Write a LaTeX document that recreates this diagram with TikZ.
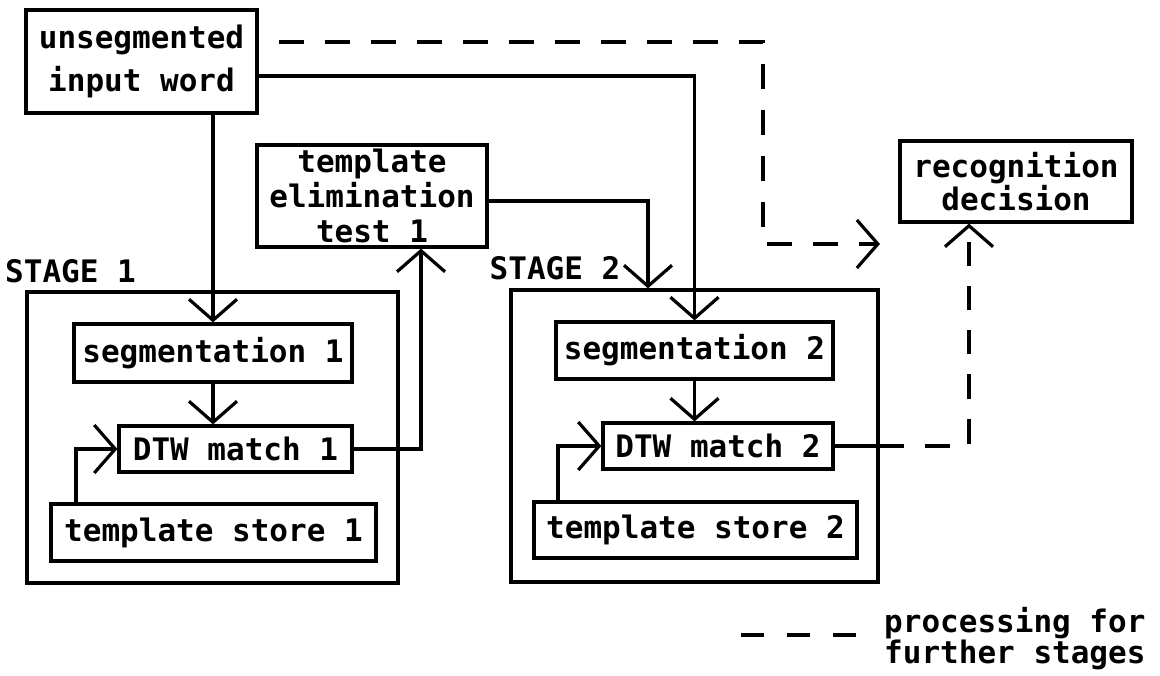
\documentclass[tikz,border=0pt]{standalone}
\usepackage{fontspec}
\setmonofont{DejaVu Sans Mono}
\usetikzlibrary{arrows.meta,calc}
\newcommand\diafont{\ttfamily\bfseries\fontsize{31}{34}\selectfont}
\tikzset{
  box/.style={draw, line width=3.2pt, inner sep=0pt, font=\diafont, align=center},
  lbl/.style={inner sep=0pt, font=\diafont},
  conn/.style={line width=3.2pt},
  arr/.style={conn, -{Straight Barb[length=21pt,width=48pt]}},
  dsh/.style={dash pattern=on 25pt off 21pt},
}
\begin{document}
\begin{tikzpicture}[x=1pt,y=-1pt]
\useasboundingbox (0,0) rectangle (1160,676);
% nodes
\node[box, minimum width=231pt, minimum height=103pt] (inp) at (141.5,61.5) {unsegmented\\[9pt]input word};
\node[box, minimum width=230pt, minimum height=102pt] (elim) at (372,196) {template\\[1pt]elimination\\[1pt]test 1};
\node[box, minimum width=232pt, minimum height=81pt] (rec) at (1016,181.5) {recognition\\[-1pt]decision};
\node[box, minimum width=371pt, minimum height=291pt] (st1) at (212.5,437.5) {};
\node[box, minimum width=278pt, minimum height=58pt] (seg1) at (213,353) {segmentation 1};
\node[box, minimum width=233pt, minimum height=46pt] (dtw1) at (235.5,449) {DTW match 1};
\node[box, minimum width=325pt, minimum height=57pt] (ts1) at (213.5,532.5) {template store 1};
\node[box, minimum width=367pt, minimum height=292pt] (st2) at (694.5,436) {};
\node[box, minimum width=277pt, minimum height=57pt] (seg2) at (694.5,350.5) {segmentation 2};
\node[box, minimum width=230pt, minimum height=46pt] (dtw2) at (718,446) {DTW match 2};
\node[box, minimum width=323pt, minimum height=56pt] (ts2) at (695.5,530) {template store 2};
\node[lbl] (l1) at (70.5,271.5) {STAGE 1};
\node[lbl] (l2) at (555,268.5) {STAGE 2};
\node[lbl, align=left, anchor=north west] (leg) at (884,607) {processing for\\[-3pt]further stages};
\coordinate (fs) at (880,244);
\coordinate (lg1) at (741,635);
\coordinate (lg2) at (856,635);
% connectors
\draw[arr] (inp.south -| seg1.north) -- (seg1.north);
\draw[arr] ([yshift=-14.5pt]inp.east) -| (seg2.north);
\draw[arr, dsh, dash phase=26pt] ([yshift=19.5pt]inp.east) -- (763,42) -- (763,244) -- (fs);
\draw[arr] ([yshift=-5pt]elim.east) -| ([xshift=-46.5pt]st2.north);
\draw[arr] (dtw1.east) -| ([xshift=49pt]elim.south);
\draw[arr] (seg1.south) -- (seg1.south |- dtw1.north);
\draw[arr] ([xshift=-137.5pt]ts1.north) |- (dtw1.west);
\draw[arr] (seg2.south) -- (seg2.south |- dtw2.north);
\draw[arr] ([xshift=-137.5pt]ts2.north) |- (dtw2.west);
\draw[arr, dash pattern=on 69pt off 21pt on 25pt off 21pt on 25pt off 20pt on 25pt off 20pt on 24pt off 20pt on 24pt off 20pt on 24pt off 200pt] (dtw2.east) -| ([xshift=-47pt]rec.south);
\draw[conn, dash pattern=on 23pt off 23pt] (lg1) -- (lg2);
\end{tikzpicture}
\end{document}
